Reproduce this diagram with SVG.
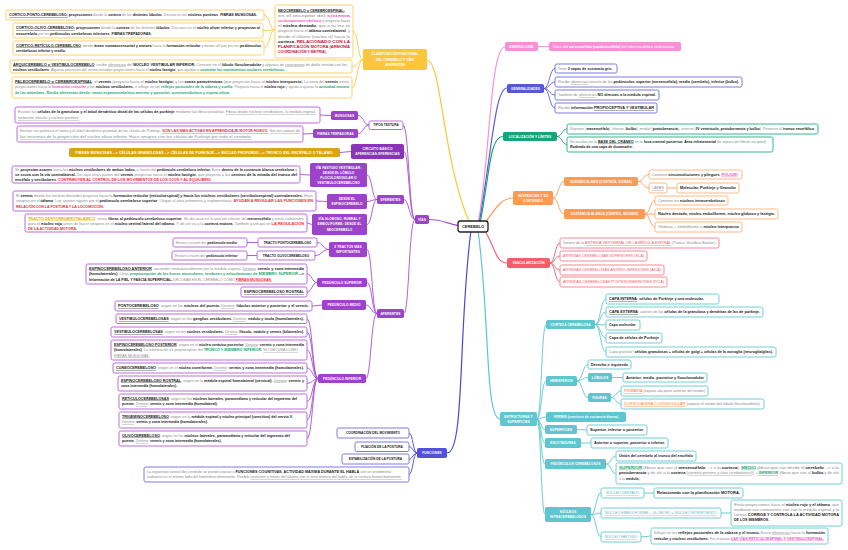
<svg xmlns="http://www.w3.org/2000/svg" width="848" height="550" viewBox="0 0 848 550">
<style>
text{font-family:"Liberation Sans",Arial,sans-serif}
.t{font-size:3.6px;fill:#8a8a8a}
.b{font-weight:700;fill:#222}
.u{text-decoration:underline}
.n{font-size:3.2px;font-weight:700;fill:#fff;text-anchor:middle;letter-spacing:0.1px}
.k{font-size:3.2px;font-weight:700;fill:#222;text-anchor:middle}
.tg{fill:#16a86e;font-weight:700}
.tk{fill:#f055c8;font-weight:700}
.tr{fill:#ef2a3c;font-weight:700}
.tc{fill:#c8143c;font-weight:700}
.td{fill:#dcb400;font-weight:700}
.to{fill:#ff7a2f}
.tR{fill:#f25a68}
.tt{fill:#4fbcc6}
rect{rx:1.8px}
.by{fill:#fff;stroke:#fdd36a;stroke-width:1}
.bp{fill:#fff;stroke:#b566d8;stroke-width:0.95}
.bi{fill:#fff;stroke:#7474e2;stroke-width:0.95}
.bg{fill:#fff;stroke:#2bb386;stroke-width:0.95}
.bo{fill:#fff;stroke:#ffb47f;stroke-width:0.95}
.br{fill:#fff;stroke:#f7848e;stroke-width:0.95}
.bc{fill:#fff;stroke:#6acbd3;stroke-width:0.95}
.fy{fill:#fcc63b}.fp{fill:#9d43cb}.fpd{fill:#8a35b8}.fi{fill:#5858d6}.fg{fill:#17a37b}
.fo{fill:#ff9a55}.fr{fill:#f55d6b}.fc{fill:#5fc6cf}.fk{fill:#fa8fd6}.fgd{fill:#d7a617}
#connectors path{fill:none;stroke-width:0.9}
.cy{stroke:#fcc63b}.cp{stroke:#a54fd1}.ci{stroke:#5a5ad8}.cg{stroke:#17a37b}.co{stroke:#ff9a55}
.cr{stroke:#f55d6b}.cc{stroke:#5fc6cf}.ck{stroke:#fa8fd6}.cf{stroke:#4a4ad0}
</style>
<rect x="0" y="0" width="848" height="550" style="fill:#fff;rx:0"/>
<g id="connectors">
<path class="cy" style="stroke-width:1.2" d="M427,60 C442,62 442,160 470,224"/>
<path class="ck" style="stroke-width:1.2" d="M478,224 C490,160 490,47 505,47"/>
<path class="ci" style="stroke-width:1.2" d="M479,224 C492,150 495,88 507,88"/>
<path class="cg" style="stroke-width:1.2" d="M480,224 C490,170 490,136.5 503,136.5"/>
<path class="co" style="stroke-width:1.2" d="M484,224 C495,210 500,198 513,198"/>
<path class="cr" style="stroke-width:1.2" d="M483,228 C495,245 495,263 507,263"/>
<path class="cc" style="stroke-width:1.2" d="M478,230 C490,320 485,419 500,419"/>
<path class="cp" style="stroke-width:1.2" d="M470,227 C450,226 445,219.5 429,219.5"/>
<path class="cf" style="stroke-width:1.2" d="M471,230 C458,330 465,453 447,453"/>
<path class="cy" d="M363,60 C358,60 358,31 353,31"/>
<path class="cy" d="M363,60 C357,60 357,67 352,67"/>
<path class="cy" d="M363,60 C357,60 357,88 352,88"/>
<path class="cy" d="M275,30 C269.5,30 269.5,15 264,15"/>
<path class="cy" d="M275,30 C269,30 269,30.5 263,30.5"/>
<path class="cy" d="M275,30 C269.5,30 269.5,48 264,48"/>
<path class="cp" d="M415,219.5 C409,219.5 409,125 403,125"/>
<path class="cp" d="M415,219.5 C409,219.5 409,151.5 404,151.5"/>
<path class="cp" d="M415,219.5 C409,219.5 409,199.5 404,199.5"/>
<path class="cp" d="M415,219.5 C409,219.5 409,313.5 404,313.5"/>
<path class="cp" d="M369,125 C363.5,125 363.5,115.5 358,115.5"/>
<path class="cp" d="M369,125 C363.5,125 363.5,133.5 358,133.5"/>
<path class="cp" d="M331,115.5 L320,115"/>
<path class="cp" d="M313,133.5 L303,134"/>
<path class="cp" d="M351,151.5 L340,152.5"/>
<path class="cp" d="M377,199.5 C372,199.5 372,175 367,175"/>
<path class="cp" d="M377,199.5 C372,199.5 372,201.5 367,201.5"/>
<path class="cp" d="M377,199.5 C372,199.5 372,224.5 367,224.5"/>
<path class="cp" d="M310,175 L300,174.5"/>
<path class="cp" d="M327,201.5 L316,201"/>
<path class="cp" d="M312,224.5 L307,223"/>
<path class="cp" d="M377,313.5 C372,313.5 372,249.5 367,249.5"/>
<path class="cp" d="M377,313.5 C372,313.5 372,282.5 367,282.5"/>
<path class="cp" d="M377,313.5 C371,313.5 371,305 366,305"/>
<path class="cp" d="M377,313.5 C371,313.5 371,378.5 366,378.5"/>
<path class="cp" d="M329,249.5 C323,249.5 323,242.5 317,242.5"/>
<path class="cp" d="M329,249.5 C322,249.5 322,255.5 315,255.5"/>
<path class="cp" d="M258,242.5 L247,242.5"/>
<path class="cp" d="M257,255.5 L247,255.5"/>
<path class="cp" d="M317,282.5 C312,282.5 312,274 307,274"/>
<path class="cp" d="M317,282.5 C312,282.5 312,292 307,292"/>
<path class="cp" d="M322,305 L312,306"/>
<path class="cp" d="M318,378.5 C312.5,378.5 312.5,318.75 307,318.75"/>
<path class="cp" d="M318,378.5 C312.5,378.5 312.5,332 307,332"/>
<path class="cp" d="M318,378.5 C312.5,378.5 312.5,350 307,350"/>
<path class="cp" d="M318,378.5 C312.5,378.5 312.5,368 307,368"/>
<path class="cp" d="M318,378.5 C312.5,378.5 312.5,383.5 307,383.5"/>
<path class="cp" d="M318,378.5 C312.5,378.5 312.5,401.5 307,401.5"/>
<path class="cp" d="M318,378.5 C312.5,378.5 312.5,420 307,420"/>
<path class="cp" d="M318,378.5 C312.5,378.5 312.5,438.5 307,438.5"/>
<path class="cf" d="M417,453 C413,453 413,433 409,433"/>
<path class="cf" d="M417,453 C413,453 413,446.75 409,446.75"/>
<path class="cf" d="M417,453 C413,453 413,459 409,459"/>
<path class="cf" d="M417,453 C413,453 413,474.5 409,474.5"/>
<path class="ck" d="M538,46.5 L549,46.5"/>
<path class="ci" d="M544,88.5 C549.5,88.5 549.5,68.5 555,68.5"/>
<path class="ci" d="M544,88.5 C549.5,88.5 549.5,82 555,82"/>
<path class="ci" d="M544,88.5 C549.5,88.5 549.5,95 555,95"/>
<path class="ci" d="M544,88.5 C549.5,88.5 549.5,108 555,108"/>
<path class="cg" d="M557,136.5 C562,136.5 562,129 567,129"/>
<path class="cg" d="M557,136.5 C562,136.5 562,144.5 567,144.5"/>
<path class="co" d="M553,198 C558.5,198 558.5,181.5 564,181.5"/>
<path class="co" d="M553,198 C558.5,198 558.5,214 564,214"/>
<path class="co" d="M638,181.5 C643.5,181.5 643.5,174.5 649,174.5"/>
<path class="co" d="M638,181.5 C643.5,181.5 643.5,188 649,188"/>
<path class="co" d="M667,188 L677,188"/>
<path class="co" d="M645,214 C650,214 650,200.5 655,200.5"/>
<path class="co" d="M645,214 L655,214"/>
<path class="co" d="M645,214 C650,214 650,227 655,227"/>
<path class="cr" d="M550,263 C555,263 555,243 560,243"/>
<path class="cr" d="M550,263 C555,263 555,256 560,256"/>
<path class="cr" d="M550,263 C555,263 555,270 560,270"/>
<path class="cr" d="M550,263 C555,263 555,282 560,282"/>
<path class="cc" d="M537,419 C541.5,419 541.5,324.5 546,324.5"/>
<path class="cc" d="M537,419 C541.5,419 541.5,381 546,381"/>
<path class="cc" d="M537,419 C541.5,419 541.5,417 546,417"/>
<path class="cc" d="M537,419 C541,419 541,429.5 545,429.5"/>
<path class="cc" d="M537,419 C541,419 541,443 545,443"/>
<path class="cc" d="M537,419 C541,419 541,464 545,464"/>
<path class="cc" d="M537,419 C541,419 541,514.5 545,514.5"/>
<path class="cc" d="M595,324.5 C600.5,324.5 600.5,299 606,299"/>
<path class="cc" d="M595,324.5 C600.5,324.5 600.5,312 606,312"/>
<path class="cc" d="M595,324.5 L606,325"/>
<path class="cc" d="M595,324.5 C600.5,324.5 600.5,338 606,338"/>
<path class="cc" d="M595,324.5 C600.5,324.5 600.5,352 606,352"/>
<path class="cc" d="M577,381 C582.5,381 582.5,364.5 588,364.5"/>
<path class="cc" d="M577,381 C582.5,381 582.5,377.5 588,377.5"/>
<path class="cc" d="M577,381 C582.5,381 582.5,397.5 588,397.5"/>
<path class="cc" d="M612,377.5 L623,377.5"/>
<path class="cc" d="M611,397.5 C616,397.5 616,391 621,391"/>
<path class="cc" d="M611,397.5 C616,397.5 616,404 621,404"/>
<path class="cc" d="M577,429.5 L587,430"/>
<path class="cc" d="M581,443 L591,443"/>
<path class="cc" d="M606,464 C611,464 611,456 616,456"/>
<path class="cc" d="M606,464 C611,464 611,473.5 616,473.5"/>
<path class="cc" d="M591,514.5 C596,514.5 596,493 601,493"/>
<path class="cc" d="M591,514.5 C596,514.5 596,513 601,513"/>
<path class="cc" d="M591,514.5 C596,514.5 596,537 601,537"/>
<path class="cc" d="M644,493 L654,493"/>
<path class="cc" d="M721,513 L731,513"/>
<path class="cc" d="M641,537 L651,536"/>
</g>

<g id="cerebelo">
<rect x="458" y="221" width="30" height="11" style="fill:#fff;stroke:#222;stroke-width:1.3;rx:2.5px"/>
<text x="473" y="228" class="k" style="font-size:4px">CEREBELO</text>
</g>

<g id="clasificacion">
<rect class="fy" x="363" y="49" width="64" height="21"/>
<text class="n" x="395" y="55">CLASIFICACIÓN FUNCIONAL</text>
<text class="n" x="395" y="60.5">DEL CEREBELO Y VÍAS</text>
<text class="n" x="395" y="66">AFERENTES</text>
</g>
<g id="neocerebelo">
<rect class="by" x="275" y="5" width="78" height="53"/>
<text class="t" x="278" y="11.5"><tspan class="b u">NEOCEREBELO o CEREBROESPINAL:</tspan></text>
<text class="t" x="278" y="16.7" textLength="72" lengthAdjust="spacingAndGlyphs">es el receptor del <tspan class="tk">sistema</tspan></text>
<text class="t" x="278" y="21.9" textLength="72" lengthAdjust="spacingAndGlyphs"><tspan class="tk">corticopontocerebeloso</tspan> y proyecta hacia</text>
<text class="t" x="278" y="27.1" textLength="72" lengthAdjust="spacingAndGlyphs">el <tspan class="b">núcleo dentado</tspan>, que a su vez se</text>
<text class="t" x="278" y="32.3" textLength="72" lengthAdjust="spacingAndGlyphs">proyecta hacia el <tspan class="b">tálamo contralateral</tspan>, y</text>
<text class="t" x="278" y="37.5" textLength="72" lengthAdjust="spacingAndGlyphs">desde el tálamo (núcleo vl) hacia la</text>
<text class="t" x="278" y="42.7" textLength="72" lengthAdjust="spacingAndGlyphs"><tspan class="b">corteza.</tspan> <tspan class="tc">RELACIONADO CON LA</tspan></text>
<text class="t" x="278" y="47.9" textLength="72" lengthAdjust="spacingAndGlyphs"><tspan class="tc">PLANIFICACIÓN MOTORA (ARMONÍA</tspan></text>
<text class="t" x="278" y="53.1"><tspan class="tc">COORDINACIÓN Y METRIA).</tspan></text>
</g>
<g id="cortico-ponto">
<rect class="by" x="6" y="10" width="258" height="10"/>
<text class="t" x="9" y="16.3" textLength="248" lengthAdjust="spacingAndGlyphs"><tspan class="b u">CORTICO-PONTO-CEREBELOSO:</tspan> <tspan class="b">proyecciones</tspan> desde la <tspan class="b">corteza</tspan> de los <tspan class="b">distintos lóbulos</tspan>. Decusa en los <tspan class="b">núcleos pontinos</tspan>. <tspan class="b">FIBRAS MUSGOSAS.</tspan></text>
</g>
<g id="cortico-olivo">
<rect class="by" x="13" y="23" width="250" height="15"/>
<text class="t" x="16" y="29" textLength="244" lengthAdjust="spacingAndGlyphs"><tspan class="b u">CORTICO-OLIVO-CEREBELOSO:</tspan> <tspan class="b">proyecciones</tspan> desde la <tspan class="b">corteza</tspan> de los distintos <tspan class="b">lóbulos</tspan>. Decusan en el <tspan class="b">núcleo olivar inferior y proyectan al</tspan></text>
<text class="t" x="16" y="34.5"><tspan class="b">neocerebelo</tspan> por los <tspan class="b">pedúnculos cerebelosos inferiores</tspan>. <tspan class="b">FIBRAS TREPADORAS.</tspan></text>
</g>
<g id="cortico-reticulo">
<rect class="by" x="13" y="41" width="251" height="14"/>
<text class="t" x="16" y="46.5" textLength="245" lengthAdjust="spacingAndGlyphs"><tspan class="b u">CORTICO-RETÍCULO-CEREBELOSO</tspan>: desde <tspan class="b">áreas somatosensorial y motora</tspan> hacia la <tspan class="b">formación reticular</tspan> y desde allí por por los <tspan class="b">pedúnculos</tspan></text>
<text class="t" x="16" y="52"><tspan class="b">cerebelosos inferior y medio.</tspan></text>
</g>
<g id="arquicerebelo">
<rect class="by" x="10" y="60" width="342" height="13"/>
<text class="t" x="13" y="65.5" textLength="334" lengthAdjust="spacingAndGlyphs"><tspan class="b u">ARQUICEREBELO o VESTIBULOCEREBELO</tspan>: recibe <tspan class="u">aferencias</tspan> del <tspan class="b">NÚCLEO VESTIBULAR INFERIOR.</tspan> Consiste en el <tspan class="b">lóbulo floculonodular</tspan> y algunas de <tspan class="u">conexiones</tspan> de doble sentido con los</text>
<text class="t" x="13" y="70.5" textLength="272" lengthAdjust="spacingAndGlyphs"><tspan class="b">núcleos vestibulares</tspan>. Algunas porciones del vermis mandan proyecciones hacia el <tspan class="b">núcleo fastigio</tspan>, que ayudan a <tspan class="tg">controlar los movimientos oculares cerebelosos.</tspan></text>
</g>
<g id="paleocerebelo">
<rect class="by" x="12" y="77" width="340" height="21"/>
<text class="t" x="15" y="82.5" textLength="334" lengthAdjust="spacingAndGlyphs"><tspan class="b u">PALEOCEREBELO o CEREBROESPINAL</tspan>: el <tspan class="b">vermis</tspan> (proyecta hacia el <tspan class="b">núcleo fastigio</tspan>) y las <tspan class="b">zonas paravérmicas</tspan> (que proyectan hacia el <tspan class="b">núcleo interpuesto</tspan>) La zona del <tspan class="b">vermis</tspan> envía</text>
<text class="t" x="15" y="88" textLength="334" lengthAdjust="spacingAndGlyphs">proyecciones hacia la <tspan class="tk">formación reticular</tspan> y los <tspan class="b">núcleos vestibulares</tspan>, e influye en los <tspan class="tg">reflejos posturales de la cabeza y cuello</tspan>. Proyecta hacia el <tspan class="b">núcleo rojo</tspan> y ayuda a ajustar la <tspan class="tg">actividad motora</tspan></text>
<text class="t" x="15" y="93.5" textLength="215" lengthAdjust="spacingAndGlyphs"><tspan class="tg">de los miembros. Recibe aferencias desde: tracto espinocerebeloso anterior y posterior, cuneocerebeloso y espino-olivar.</tspan></text>
</g>

<g id="vias">
<rect class="fp" x="415" y="215" width="14" height="9"/>
<text class="n" x="422" y="220.7">VÍAS</text>
</g>
<g id="tipos-textura">
<rect class="bp" x="369" y="121" width="34" height="8.5"/>
<text class="k" x="386" y="126.4">TIPOS TEXTURA</text>
</g>
<g id="musgosas">
<rect class="fp" x="331" y="111" width="27" height="9"/>
<text class="n" x="344.5" y="116.7">MUSGOSAS</text>
</g>
<g id="musgosas-texto">
<rect class="bp" x="15" y="107" width="305" height="16"/>
<text class="t" x="18" y="113" textLength="298" lengthAdjust="spacingAndGlyphs">Excitan las <tspan class="b">células de la granulosa y el árbol dendrítico distal de las células de purkinje</tspan> mediante las fibras paralelas. <tspan class="u">Fibras desde núcleos vestibulares, la médula espinal,</tspan></text>
<text class="t" x="18" y="119"><tspan class="u">formación reticular y núcleos pontinos.</tspan></text>
</g>
<g id="trepadoras">
<rect class="fp" x="313" y="129" width="45" height="9"/>
<text class="n" x="335.5" y="134.7">FIBRAS TREPADORAS</text>
</g>
<g id="trepadoras-texto">
<rect class="bp" x="17" y="126" width="286" height="16"/>
<text class="t" x="20" y="132" textLength="280" lengthAdjust="spacingAndGlyphs">Excitan con potencia el soma y el árbol dendrítico proximal de las células de Purkinje. <tspan class="tr u">SON LAS MÁS ACTIVAS EN APRENDIZAJE MOTOR NUEVO.</tspan> <tspan class="u">Son los axones de</tspan></text>
<text class="t" x="20" y="138" textLength="232" lengthAdjust="spacingAndGlyphs"><tspan class="u">las neuronas de la proyección del núcleo olivar inferior. Hace sinapsis con las células de Purkinje por todo el cerebelo.</tspan></text>
</g>
<g id="circuito">
<rect class="fpd" x="351" y="144" width="53" height="15"/>
<text class="n" x="377.5" y="150">CIRCUITO BÁSICO</text>
<text class="n" x="377.5" y="155.3">AFERENCIAS-EFERENCIAS</text>
</g>
<g id="circuito-texto">
<rect class="fgd" x="69" y="148" width="271" height="9"/>
<text class="n" x="204.5" y="153.7" textLength="258" lengthAdjust="spacingAndGlyphs">FIBRAS MUSGOSAS --&gt; CÉLULAS GRANULOSAS --&gt; CÉLULAS DE PURKINJE --&gt; NÚCLEO PROFUNDO --&gt; TRONCO DEL ENCÉFALO O TÁLAMO.</text>
</g>
<g id="eferentes">
<rect class="fp" x="377" y="195" width="27" height="9"/>
<text class="n" x="390.5" y="200.7">EFERENTES</text>
</g>
<g id="via-fastigio">
<rect class="fp" x="310" y="163" width="57" height="24"/>
<text class="n" x="338.5" y="168.7">VÍA FASTIGIO VESTIBULAR:</text>
<text class="n" x="338.5" y="173.9">DESDE EL LÓBULO</text>
<text class="n" x="338.5" y="179.1">FLOCULONODULAR O</text>
<text class="n" x="338.5" y="184.3">VESTIBULOCEREBELOSO</text>
</g>
<g id="via-fastigio-texto">
<rect class="bp" x="12" y="166" width="288" height="17"/>
<text class="t" x="15" y="171" textLength="282" lengthAdjust="spacingAndGlyphs">Se <tspan class="b">proyectan axones</tspan> hacia los <tspan class="b">núcleos vestibulares de ambos lados,</tspan> a través del <tspan class="b">pedúnculo cerebeloso inferior.</tspan> Entre <tspan class="b">dentro de la sustancia blanca cerebelosa</tspan> y</text>
<text class="t" x="15" y="176" textLength="282" lengthAdjust="spacingAndGlyphs"><tspan class="b">se cruza con la vía contralateral.</tspan> De aquí otras partes del <tspan class="b">vermis</tspan> proyectan hacia el <tspan class="b">núcleo fastigio</tspan>, que proyecta a los <tspan class="b">centros de la mirada del tronco del</tspan></text>
<text class="t" x="15" y="181" textLength="197" lengthAdjust="spacingAndGlyphs"><tspan class="b">encéfalo y vestibulares.</tspan> <tspan class="tr">CONTRIBUYEN AL CONTROL DE LOS MOVIMIENTOS DE LOS OJOS Y AL EQUILIBRIO.</tspan></text>
</g>
<g id="desde-espinocerebelo">
<rect class="fp" x="327" y="194" width="40" height="15"/>
<text class="n" x="347" y="200">DESDE EL</text>
<text class="n" x="347" y="205.3">ESPINOCEREBELO</text>
</g>
<g id="espinocerebelo-texto">
<rect class="bp" x="13" y="191" width="303" height="20"/>
<text class="t" x="16" y="196.5" textLength="297" lengthAdjust="spacingAndGlyphs">El <tspan class="b">vermis</tspan> desde los núcleos dentados proyecta hacia la <tspan class="b">formación reticular (reticuloespinal) y hacia los núcleos vestibulares (vestibuloespinal) contralaterales.</tspan> Hace</text>
<text class="t" x="16" y="202" textLength="297" lengthAdjust="spacingAndGlyphs">sinapsis en el <tspan class="b">tálamo</tspan>. Los axones siguen por el <tspan class="b">pedúnculo cerebeloso superior</tspan>. Llegan al área premotora y suplementaria: <tspan class="tr">AYUDAN A REGULAR LAS FUNCIONES EN</tspan></text>
<text class="t" x="16" y="207.5"><tspan class="tr">RELACIÓN CON LA POSTURA Y LA LOCOMOCIÓN.</tspan></text>
</g>
<g id="via-globoso">
<rect class="fp" x="312" y="214" width="55" height="21"/>
<text class="n" x="339.5" y="220">VÍA GLOBOSO, RUBRAL Y</text>
<text class="n" x="339.5" y="225.3">EMBOLIFORME: DESDE EL</text>
<text class="n" x="339.5" y="230.6">NEOCEREBELO</text>
</g>
<g id="via-globoso-texto">
<rect class="bp" x="25" y="214" width="282" height="18"/>
<text class="t" x="28" y="219.5" textLength="276" lengthAdjust="spacingAndGlyphs"><tspan class="td u">TRACTO DENTORRUBROTALÁMICO</tspan>: envía <tspan class="b">fibras al pedúnculo cerebeloso superior</tspan>. Se decusan en la porción inferior del <tspan class="b">mesencéfalo</tspan> y envía colaterales</text>
<text class="t" x="28" y="224.7" textLength="276" lengthAdjust="spacingAndGlyphs">para el <tspan class="b">núcleo rojo</tspan> antes de hacer sinapsis en el <tspan class="b">núcleo ventral lateral del tálamo</tspan>. Y de ahí va a la <tspan class="b">corteza motora</tspan>. También participa en <tspan class="tr">LA REGULACIÓN</tspan></text>
<text class="t" x="28" y="229.9"><tspan class="tr">DE LA ACTIVIDAD MOTORA.</tspan></text>
</g>
<g id="aferentes">
<rect class="fp" x="377" y="309" width="27" height="9"/>
<text class="n" x="390.5" y="314.7">AFERENTES</text>
</g>
<g id="dos-tractos">
<rect class="fp" x="329" y="242" width="38" height="15"/>
<text class="n" x="348" y="248">2 TRACTOS MÁS</text>
<text class="n" x="348" y="253.3">IMPORTANTES</text>
</g>
<g id="tracto-ponto">
<rect class="bp" x="258" y="238" width="59" height="9"/>
<text class="k" x="287.5" y="243.7">TRACTO PONTOCEREBELOSO</text>
</g>
<g id="entran-medio">
<rect class="bp" x="173" y="238" width="74" height="9"/>
<text class="t" x="176" y="243.7">Entran a través del <tspan class="b">pedúnculo medio</tspan></text>
</g>
<g id="tracto-olivo">
<rect class="bp" x="257" y="251" width="58" height="9"/>
<text class="k" x="286" y="256.7">TRACTO OLIVOCEREBELOSO</text>
</g>
<g id="entran-inferior">
<rect class="bp" x="172" y="251" width="75" height="9"/>
<text class="t" x="175" y="256.7">Entran a través del <tspan class="b">pedúnculo inferior</tspan></text>
</g>
<g id="pedunculo-superior">
<rect class="fp" x="317" y="278" width="50" height="9"/>
<text class="n" x="342" y="283.7">PEDÚNCULO SUPERIOR</text>
</g>
<g id="espino-anterior">
<rect class="bp" x="86" y="264" width="221" height="20"/>
<text class="t" x="89" y="269.5" textLength="215" lengthAdjust="spacingAndGlyphs"><tspan class="b u">ESPINOCEREBELOSO ANTERIOR</tspan>: asciende contralateralmente por la médula espinal. <tspan class="u">Destino</tspan>: <tspan class="b">vermis y zona intermedia</tspan></text>
<text class="t" x="89" y="275" textLength="215" lengthAdjust="spacingAndGlyphs"><tspan class="b">(homolaterales)</tspan>. Lleva <tspan class="tg">propiocepción de los husos musculares, tendones y articulaciones de MIEMBRO SUPERIOR</tspan> <tspan class="b">--&gt;</tspan></text>
<text class="t" x="89" y="280.5" textLength="183" lengthAdjust="spacingAndGlyphs"><tspan class="b">Información de LA PIEL Y FASCIA SUPERFICIAL.</tspan> DECUSAN EN EL CEREBELO COMO <tspan class="tr u">FIBRAS MUSGOSAS.</tspan></text>
</g>
<g id="espino-rostral-sup">
<rect class="bp" x="241" y="287" width="66" height="10"/>
<text class="t" x="244" y="293.2" textLength="60" lengthAdjust="spacingAndGlyphs"><tspan class="b u">ESPINOCEREBELOSO ROSTRAL</tspan></text>
</g>
<g id="pedunculo-medio">
<rect class="fp" x="322" y="300" width="44" height="10"/>
<text class="n" x="344" y="306.2">PEDÚNCULO MEDIO</text>
</g>
<g id="pontocerebeloso">
<rect class="bp" x="115" y="301" width="197" height="10"/>
<text class="t" x="118" y="307.2" textLength="191" lengthAdjust="spacingAndGlyphs"><tspan class="b u">PONTOCEREBELOSO</tspan>: origen en los <tspan class="b">núcleos del puente.</tspan> <tspan class="u">Destino</tspan>: <tspan class="b">lóbulos anterior y posterior y el vermis.</tspan></text>
</g>
<g id="pedunculo-inferior">
<rect class="fp" x="318" y="374" width="48" height="9"/>
<text class="n" x="342" y="379.7">PEDÚNCULO INFERIOR</text>
</g>
<g id="vestibulo-1">
<rect class="bp" x="116" y="314" width="191" height="9.5"/>
<text class="t" x="119" y="320" textLength="185" lengthAdjust="spacingAndGlyphs"><tspan class="b u">VESTIBULOCEREBELOSAS</tspan>: origen en los <tspan class="b">ganglios vestibulares.</tspan> <tspan class="u">Destino</tspan>: <tspan class="b">nódulo y úvula (homolaterales).</tspan></text>
</g>
<g id="vestibulo-2">
<rect class="bp" x="111" y="327" width="196" height="10"/>
<text class="t" x="114" y="333.2" textLength="190" lengthAdjust="spacingAndGlyphs"><tspan class="b u">VESTIBULOCEREBELOSAS</tspan>: origen en los <tspan class="b">núcleos vestibulares.</tspan> <tspan class="u">Destino</tspan>: <tspan class="b">flóculo, nódulo y vermis (bilaterales).</tspan></text>
</g>
<g id="espino-posterior">
<rect class="bp" x="111" y="340" width="196" height="20"/>
<text class="t" x="114" y="345.5" textLength="190" lengthAdjust="spacingAndGlyphs"><tspan class="b u">ESPINOCEREBELOSO POSTERIOR</tspan>: origen en el <tspan class="b">núcleo torácico posterior.</tspan> <tspan class="u">Destino</tspan>: <tspan class="b">vermis y zona intermedia</tspan></text>
<text class="t" x="114" y="351" textLength="184" lengthAdjust="spacingAndGlyphs"><tspan class="b">(homolaterales)</tspan>. La información es propioceptiva del <tspan class="tg">TRONCO Y MIEMBRO INFERIOR</tspan>. <tspan class="u">NO DECUSA COMO</tspan></text>
<text class="t" x="114" y="356.5"><tspan class="u">FIBRAS MUSGOSAS.</tspan></text>
</g>
<g id="cuneocerebeloso">
<rect class="bp" x="113" y="363" width="194" height="10"/>
<text class="t" x="116" y="369.2" textLength="188" lengthAdjust="spacingAndGlyphs"><tspan class="b u">CUNEOCEREBELOSO</tspan>: origen en el <tspan class="b">núcleo cuneiforme.</tspan> <tspan class="u">Destino</tspan>: <tspan class="b">vermis y zona intermedia (homolaterales).</tspan></text>
</g>
<g id="espino-rostral-inf">
<rect class="bp" x="118" y="376" width="189" height="15"/>
<text class="t" x="121" y="381.5" textLength="183" lengthAdjust="spacingAndGlyphs"><tspan class="b u">ESPINOCEREBELOSO ROSTRAL</tspan>: origen en la <tspan class="b">médula espinal homolateral (cervical).</tspan> <tspan class="u">Destino</tspan>: <tspan class="b">vermis y</tspan></text>
<text class="t" x="121" y="387"><tspan class="b">zona intermedia (homolaterales).</tspan></text>
</g>
<g id="reticulocerebelosas">
<rect class="bp" x="119" y="394" width="188" height="15"/>
<text class="t" x="122" y="399.5" textLength="175" lengthAdjust="spacingAndGlyphs"><tspan class="b u">RETICULOCEREBELOSAS</tspan>: origen en los <tspan class="b">núcleos laterales, paramediano y reticular del tegmento del</tspan></text>
<text class="t" x="122" y="405"><tspan class="b">puente.</tspan> <tspan class="u">Destino</tspan>: <tspan class="b">vermis y zona intermedia (homolateral).</tspan></text>
</g>
<g id="trigeminocerebeloso">
<rect class="bp" x="119" y="412" width="188" height="16"/>
<text class="t" x="122" y="417.5" textLength="171" lengthAdjust="spacingAndGlyphs"><tspan class="b u">TRIGEMINOCEREBELOSO</tspan>: origen en la <tspan class="b">médula espinal y núcleo principal (sensitivo) del nervio V.</tspan></text>
<text class="t" x="122" y="423.2"><tspan class="u">Destino</tspan>: <tspan class="b">vermis y zona intermedia (homolaterales).</tspan></text>
</g>
<g id="olivocerebeloso">
<rect class="bp" x="119" y="431" width="188" height="15"/>
<text class="t" x="122" y="436.5" textLength="168" lengthAdjust="spacingAndGlyphs"><tspan class="b u">OLIVOCEREBELOSO</tspan>: origen en los <tspan class="b">núcleos laterales, paramediano y reticular del tegmento del</tspan></text>
<text class="t" x="122" y="442"><tspan class="b">puente.</tspan> <tspan class="u">Destino</tspan>: <tspan class="b">vermis y zona intermedia (homolaterales).</tspan></text>
</g>

<g id="funciones">
<rect x="417" y="448" width="30" height="10" style="fill:#5152d6"/>
<text class="n" x="432" y="454.2">FUNCIONES</text>
</g>
<g id="coordinacion">
<rect class="bi" x="337" y="428" width="72" height="10"/>
<text class="k" x="373" y="434.2">COORDINACIÓN DEL MOVIMIENTO</text>
</g>
<g id="fijacion">
<rect class="bi" x="355" y="442" width="54" height="9.5"/>
<text class="k" x="382" y="448">FIJACIÓN DE LA POSTURA</text>
</g>
<g id="estabilizacion">
<rect class="bi" x="342" y="454" width="67" height="10"/>
<text class="k" x="375.5" y="460.2">ESTABILIZACIÓN DE LA POSTURA</text>
</g>
<g id="funciones-cognitivas">
<rect class="bi" x="144" y="467" width="265" height="15"/>
<text class="t" x="147" y="472.7" textLength="244" lengthAdjust="spacingAndGlyphs">La expansión lateral del cerebelo se puede asociar a <tspan class="b">FUNCIONES COGNITIVAS. ACTIVIDAD MÁXIMA DURANTE EL HABLA</tspan> con un predominio</text>
<text class="t" x="147" y="478.2" textLength="255" lengthAdjust="spacingAndGlyphs">unilateral en el mismo lado del hemisferio dominante. Posible <tspan class="u">conexión a través del tálamo con el área motora del habla, de la corteza frontal dominante.</tspan></text>
</g>

<g id="embriologia">
<rect class="fk" x="505" y="42" width="33" height="9"/>
<text class="n" x="521.5" y="47.7">EMBRIOLOGÍA</text>
</g>
<g id="embriologia-texto">
<rect class="fk" x="549" y="42" width="132" height="9"/>
<text class="t" x="553" y="47.7" style="fill:#fff" textLength="122" lengthAdjust="spacingAndGlyphs">Nace del <tspan font-weight="700">mesencéfalo (rombencéfalo)</tspan> del tubo encefálico embrionario.</text>
</g>

<g id="generalidades">
<rect class="fi" x="507" y="84" width="37" height="9"/>
<text class="n" x="525.5" y="89.7">GENERALIDADES</text>
</g>
<g id="gen-1">
<rect class="bi" x="555" y="64" width="62" height="9"/>
<text class="t" x="558" y="69.7">Tiene <tspan class="b">3 capas de sustancia gris.</tspan></text>
</g>
<g id="gen-2">
<rect class="bi" x="555" y="77" width="187" height="10"/>
<text class="t" x="558" y="83.2" textLength="181" lengthAdjust="spacingAndGlyphs">Recibe <tspan class="u">aferencias</tspan> através de los <tspan class="b">pedúnculos superior (mesencéfalo), medio (cerebelo), inferior (bulbo).</tspan></text>
</g>
<g id="gen-3">
<rect class="bi" x="555" y="90" width="104" height="10"/>
<text class="t" x="558" y="96.2" textLength="98" lengthAdjust="spacingAndGlyphs">También de <tspan class="u">aferencias</tspan> <tspan class="b">NO directas a la médula espinal.</tspan></text>
</g>
<g id="gen-4">
<rect class="bi" x="555" y="103" width="102" height="10"/>
<text class="t" x="558" y="109.2" textLength="96" lengthAdjust="spacingAndGlyphs">Recibe <tspan class="b">información</tspan> <tspan class="b u">PROPIOCEPTIVA Y VESTIBULAR</tspan></text>
</g>

<g id="localizacion">
<rect class="fg" x="503" y="132" width="54" height="9"/>
<text class="n" x="530" y="137.7">LOCALIZACIÓN Y LÍMITES</text>
</g>
<g id="loc-1">
<rect class="bg" x="567" y="124" width="251" height="10"/>
<text class="t" x="570" y="130.2" textLength="245" lengthAdjust="spacingAndGlyphs">Superior (<tspan class="b">mesencéfalo</tspan>), inferior (<tspan class="b">bulbo</tspan>), medial (<tspan class="b">protuberancia</tspan>), anterior (<tspan class="b">IV ventrículo, protuberancia y bulbo</tspan>). Posterior al <tspan class="b">tronco encefálico.</tspan></text>
</g>
<g id="loc-2">
<rect class="bg" x="567" y="137" width="206" height="15"/>
<text class="t" x="570" y="142.7" textLength="197" lengthAdjust="spacingAndGlyphs">Se localiza en la <tspan class="b u">BASE DEL CRÁNEO</tspan> en la <tspan class="b">fosa craneal posterior. Área infratentorial</tspan> (lo separa del lóbulo occipital).</text>
<text class="t" x="570" y="148.2"><tspan class="b">Rodeado de una capa de duramadre.</tspan></text>
</g>

<g id="sustancias">
<rect class="fo" x="513" y="191" width="40" height="14"/>
<text class="n" x="533" y="196.8">SUSTANCIAS Y SU</text>
<text class="n" x="533" y="201.8">CONTENIDO</text>
</g>
<g id="sustancia-gris">
<rect class="fo" x="564" y="177" width="74" height="9"/>
<text class="n" x="601" y="182.7">SUSTANCIA GRIS (CORTEZA, SOMAS)</text>
</g>
<g id="gris-1">
<rect class="bo" x="649" y="170" width="93" height="9"/>
<text class="t" x="652" y="175.7" textLength="87" lengthAdjust="spacingAndGlyphs">Contiene <tspan class="b">circunvoluciones y pliegues</tspan> (<tspan class="tk u">FOLIUM</tspan>).</text>
</g>
<g id="capas">
<rect class="bo" x="649" y="183" width="18" height="10"/>
<text class="t" x="652" y="189.2"><tspan class="u">CAPAS</tspan></text>
</g>
<g id="capas-texto">
<rect class="bo" x="677" y="183" width="62" height="10"/>
<text class="t" x="680" y="189.2" textLength="56" lengthAdjust="spacingAndGlyphs"><tspan class="b">Molecular, Purkinje y Granular</tspan></text>
</g>
<g id="sustancia-blanca">
<rect class="fo" x="564" y="209" width="81" height="10"/>
<text class="n" x="604.5" y="215.2">SUSTANCIA BLANCA (CENTRO, AXONES)</text>
</g>
<g id="blanca-1">
<rect class="bo" x="655" y="196" width="73" height="9"/>
<text class="t" x="658" y="201.7" textLength="67" lengthAdjust="spacingAndGlyphs">Contiene los <tspan class="b">núcleos intracerebelosos</tspan></text>
</g>
<g id="blanca-2">
<rect class="bo" x="655" y="209" width="123" height="10"/>
<text class="t" x="658" y="215.2" textLength="117" lengthAdjust="spacingAndGlyphs"><tspan class="b">Núcleo dentado, núcleo emboliforme, núcleo globoso y fastigio.</tspan></text>
</g>
<g id="blanca-3">
<rect class="bo" x="655" y="222" width="87" height="10"/>
<text class="t" x="658" y="228.2" textLength="81" lengthAdjust="spacingAndGlyphs">Globoso + emboliforme = <tspan class="b">núcleo interpuesto</tspan></text>
</g>

<g id="vascularizacion">
<rect class="fr" x="507" y="258" width="43" height="10"/>
<text class="n" x="528.5" y="264.2">VASCULARIZACIÓN</text>
</g>
<g id="vasc-1">
<rect class="br" x="560" y="238" width="159" height="10"/>
<text class="t" x="563" y="244.2" textLength="153" lengthAdjust="spacingAndGlyphs">Vienen de la <tspan class="tR u">ARTERIA VERTEBRAL DE LA MÉDULA ESPINAL</tspan> (Tronco Vertebro-Basilar).</text>
</g>
<g id="vasc-2">
<rect class="br" x="560" y="251" width="87" height="10"/>
<text class="t tR" x="563" y="257.2" textLength="81" lengthAdjust="spacingAndGlyphs">ARTERIAS CEREBELOSAS SUPERIORES (SCA)</text>
</g>
<g id="vasc-3">
<rect class="br" x="560" y="265" width="104" height="10"/>
<text class="t tR" x="563" y="271.2" textLength="98" lengthAdjust="spacingAndGlyphs">ARTERIAS CEREBELOSAS ANTERO-INFERIORES (AICA)</text>
</g>
<g id="vasc-4">
<rect class="br" x="560" y="277" width="107" height="10"/>
<text class="t tR" x="563" y="283.2" textLength="101" lengthAdjust="spacingAndGlyphs">ARTERIAS CEREBELOSAS POSTEROINFERIORES (PICA)</text>
</g>

<g id="estructuras">
<rect class="fc" x="500" y="412" width="37" height="14"/>
<text class="n" x="518.5" y="417.8">ESTRUCTURAS Y</text>
<text class="n" x="518.5" y="422.8">SUPERFICIES</text>
</g>
<g id="corteza">
<rect class="fc" x="546" y="320" width="49" height="9"/>
<text class="n" x="570.5" y="325.7">CORTEZA CEREBELOSA</text>
</g>
<g id="cort-1">
<rect class="bc" x="606" y="294" width="113" height="10"/>
<text class="t" x="609" y="300.2" textLength="95" lengthAdjust="spacingAndGlyphs"><tspan class="b u">CAPA INTERNA</tspan>: <tspan class="b">células de Purkinje y una molecular.</tspan></text>
</g>
<g id="cort-2">
<rect class="bc" x="606" y="307" width="157" height="10"/>
<text class="t" x="609" y="313.2" textLength="151" lengthAdjust="spacingAndGlyphs"><tspan class="b u">CAPA EXTERNA</tspan>: axones de las <tspan class="b">células de la granulosa y dendritas de las de purkinje.</tspan></text>
</g>
<g id="cort-3">
<rect class="bc" x="606" y="320" width="34" height="10"/>
<text class="t" x="609" y="326.2"><tspan class="b">Capa molecular</tspan></text>
</g>
<g id="cort-4">
<rect class="bc" x="606" y="333" width="56" height="10"/>
<text class="t" x="609" y="339.2" textLength="50" lengthAdjust="spacingAndGlyphs"><tspan class="b">Capa de células de Purkinje</tspan></text>
</g>
<g id="cort-5">
<rect class="bc" x="606" y="347" width="170" height="10"/>
<text class="t" x="609" y="353.2" textLength="164" lengthAdjust="spacingAndGlyphs">Capa granular: <tspan class="b">células granulosas + células de golgi + células de la astroglía (neuroglia/glías).</tspan></text>
</g>
<g id="hemisferios">
<rect class="fc" x="546" y="376" width="31" height="10"/>
<text class="n" x="561.5" y="382.2">HEMISFERIOS</text>
</g>
<g id="hem-1">
<rect class="bc" x="588" y="360" width="43" height="9"/>
<text class="t" x="591" y="365.7" textLength="37" lengthAdjust="spacingAndGlyphs"><tspan class="b">Derecho e izquierdo</tspan></text>
</g>
<g id="lobulos">
<rect class="fc" x="588" y="373" width="24" height="9"/>
<text class="n" x="600" y="378.7">LÓBULOS</text>
</g>
<g id="lobulos-texto">
<rect class="bc" x="623" y="373" width="84" height="9"/>
<text class="t" x="626" y="378.7" textLength="78" lengthAdjust="spacingAndGlyphs"><tspan class="b">Anterior, medio, posterior y floculonodular</tspan></text>
</g>
<g id="fisuras">
<rect class="fc" x="588" y="393" width="23" height="9"/>
<text class="n" x="599.5" y="398.7">FISURAS</text>
</g>
<g id="fis-1">
<rect class="bc" x="621" y="386" width="87" height="10"/>
<text class="t" x="624" y="392.2" textLength="81" lengthAdjust="spacingAndGlyphs"><tspan class="to u">PRIMARIA</tspan> (separa ala parte anterior del medio)</text>
</g>
<g id="fis-2">
<rect class="bc" x="621" y="399" width="143" height="10"/>
<text class="t" x="624" y="405.2" textLength="137" lengthAdjust="spacingAndGlyphs"><tspan class="to u">DORSOLATERA O UVUNODULAR</tspan> (separa el medio del lóbulo floculonodular).</text>
</g>
<g id="vermis">
<rect class="fc" x="546" y="412" width="80" height="10"/>
<text class="n" x="586" y="418.2">VERMIS (comisura de sustancia blanca)</text>
</g>
<g id="superficies">
<rect class="fc" x="545" y="425" width="32" height="9"/>
<text class="n" x="561" y="430.7">SUPERFICIES</text>
</g>
<g id="superficies-texto">
<rect class="bc" x="587" y="425" width="60" height="10"/>
<text class="t" x="590" y="431.2" textLength="54" lengthAdjust="spacingAndGlyphs"><tspan class="b">Superior, inferior o posterior.</tspan></text>
</g>
<g id="escotaduras">
<rect class="fc" x="545" y="438" width="36" height="10"/>
<text class="n" x="563" y="444.2">ESCOTADURAS</text>
</g>
<g id="escotaduras-texto">
<rect class="bc" x="591" y="438" width="77" height="10"/>
<text class="t" x="594" y="444.2" textLength="71" lengthAdjust="spacingAndGlyphs"><tspan class="b">Anterior o superior, posterior o inferior.</tspan></text>
</g>
<g id="pedunculos">
<rect class="fc" x="545" y="459" width="61" height="10"/>
<text class="n" x="575.5" y="465.2">PEDÚNCULOS CEREBELOSOS</text>
</g>
<g id="ped-1">
<rect class="bc" x="616" y="451" width="80" height="10"/>
<text class="t" x="619" y="457.2" textLength="74" lengthAdjust="spacingAndGlyphs"><tspan class="b">Unión del cerebelo al tronco del encéfalo</tspan></text>
</g>
<g id="ped-2">
<rect class="bc" x="616" y="463" width="226" height="21"/>
<text class="t" x="619" y="468.7" textLength="220" lengthAdjust="spacingAndGlyphs"><tspan class="tg u">SUPERIOR</tspan> (fibras que van al <tspan class="b">mesencéfalo</tspan> --&gt; a la <tspan class="b">corteza</tspan>), <tspan class="tg u">MEDIO</tspan> (fibras que van desde el <tspan class="b">cerebelo</tspan> --&gt; a la</text>
<text class="t" x="619" y="474.2" textLength="220" lengthAdjust="spacingAndGlyphs"><tspan class="b">protuberancia</tspan> y de ahí a la <tspan class="b">corteza</tspan> (<tspan class="u">corteza pontina y vías cerebelosas</tspan>)) + <tspan class="tg u">INFERIOR</tspan> (fibras que van al <tspan class="b">bulbo</tspan> y de ahí</text>
<text class="t" x="619" y="479.7">a la <tspan class="b">médula</tspan>).</text>
</g>
<g id="nucleos">
<rect class="fc" x="545" y="507" width="46" height="15"/>
<text class="n" x="568" y="513">NÚCLEOS</text>
<text class="n" x="568" y="518.3">INTRACEREBELOSOS</text>
</g>
<g id="nucleo-dentado">
<rect class="bc" x="601" y="488" width="43" height="10"/>
<text class="t tt u" x="622.5" y="494.2" text-anchor="middle">NÚCLEO DENTADO</text>
</g>
<g id="dentado-texto">
<rect class="bc" x="654" y="488" width="89" height="10"/>
<text class="t" x="657" y="494.2" textLength="83" lengthAdjust="spacingAndGlyphs"><tspan class="b">Relacionado con la planificación MOTORA.</tspan></text>
</g>
<g id="nucleo-interpuesto">
<rect class="bc" x="601" y="508" width="120" height="10"/>
<text class="t tt u" x="661" y="514.2" text-anchor="middle" textLength="112" lengthAdjust="spacingAndGlyphs">NÚCLEO EMBOLIFORME + GLOBOSO = NÚCLEO INTERPUESTO</text>
</g>
<g id="interpuesto-texto">
<rect class="bc" x="731" y="500" width="111" height="26"/>
<text class="t" x="734" y="505.5" textLength="105" lengthAdjust="spacingAndGlyphs">Envía proyecciones hacia el <tspan class="b">núcleo rojo y el tálamo</tspan>, que</text>
<text class="t" x="734" y="510.7" textLength="105" lengthAdjust="spacingAndGlyphs">mediante sus conexiones con con la médula espinal y la</text>
<text class="t" x="734" y="515.9" textLength="105" lengthAdjust="spacingAndGlyphs">corteza <tspan class="b">CORRIGE Y CONTROLA LA ACTIVIDAD MOTORA</tspan></text>
<text class="t" x="734" y="521.1"><tspan class="b">DE LOS MIEMBROS.</tspan></text>
</g>
<g id="nucleo-fastigio">
<rect class="bc" x="601" y="532" width="40" height="10"/>
<text class="t tt u" x="621" y="538.2" text-anchor="middle">NÚCLEO FASTIGIO</text>
</g>
<g id="fastigio-texto">
<rect class="bc" x="651" y="528" width="177" height="16"/>
<text class="t" x="654" y="533.7" textLength="171" lengthAdjust="spacingAndGlyphs">Influye en los <tspan class="b">reflejos posturales de la cabeza y el tronco.</tspan> Envía <tspan class="u">eferencias</tspan> hacia la <tspan class="b">formación</tspan></text>
<text class="t" x="654" y="539.5" textLength="170" lengthAdjust="spacingAndGlyphs"><tspan class="b">reticular y núcleos vestibulares.</tspan> Por el pasan <tspan class="tk u">LAS VÍAS RETICULOESPINAL Y VESTIBULOESPINAL.</tspan></text>
</g>
</svg>
